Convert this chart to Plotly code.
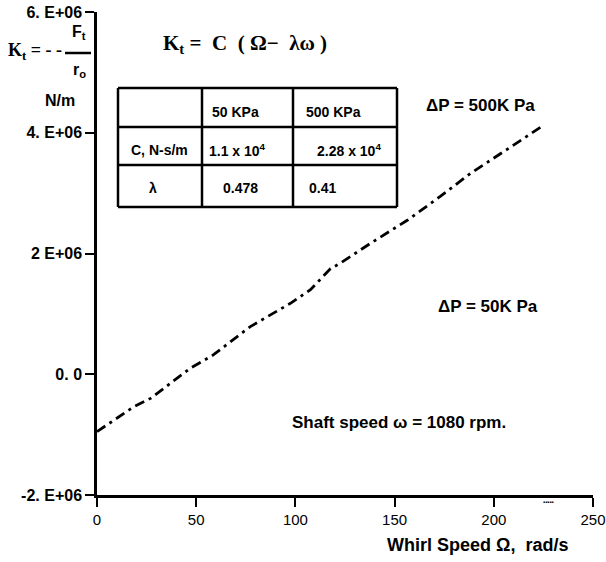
import plotly.graph_objects as go

# ---- data ----
omega = [0, 18.5, 27, 47, 50.5, 58.6, 77.3, 89, 97.5, 107.6, 117.7, 122.7,
         137.9, 156.4, 168.2, 173.2, 188.4, 203.5, 218.7, 225.4]
kt = [-0.95e6, -0.54e6, -0.40e6, 0.10e6, 0.165e6, 0.32e6, 0.79e6, 1.01e6,
      1.175e6, 1.40e6, 1.75e6, 1.84e6, 2.17e6, 2.55e6, 2.83e6, 2.95e6,
      3.33e6, 3.66e6, 3.99e6, 4.13e6]

x_ticks = [0, 50, 100, 150, 200, 250]
y_ticks = [-2e6, 0, 2e6, 4e6, 6e6]
y_ticktext = ["-2. E+06", "0. 0", "2 E+06", "4. E+06", "6. E+06"]

table_header = ["", "50 KPa", "500 KPa"]
table_row_c = ["C, N-s/m", "1.1 x 10<sup>4</sup>", "2.28 x 10<sup>4</sup>"]
table_row_l = ["λ", "0.478", "0.41"]

# ---- layout helpers (pixel -> paper) ----
L, R, T, B = 97, 593, 12, 495
W, H = 606, 562
def px(x):
    return (x - L) / (R - L)
def py(y):
    return (B - y) / (B - T)

FONT = "Liberation Sans"
SERIF = "Liberation Serif"

fig = go.Figure()
fig.add_trace(go.Scatter(
    x=omega, y=kt, mode="lines",
    line=dict(color="black", width=2.8, dash="10px,5px,3px,5px"),
    showlegend=False, hoverinfo="skip"))

ann = []
def text(x, y, s, size=13, family=FONT, xanchor="center", bold=True):
    ann.append(dict(x=px(x), y=py(y), xref="paper", yref="paper",
                    text=(f"<b>{s}</b>" if bold else s), showarrow=False,
                    xanchor=xanchor, yanchor="middle",
                    font=dict(family=family, size=size, color="black")))

# Table
shapes = []
tx = [118, 202, 293, 397]
ty = [88, 127, 165, 207]
for xv in tx:
    shapes.append(dict(type="line", xref="paper", yref="paper",
                       x0=px(xv), x1=px(xv), y0=py(ty[0]), y1=py(ty[-1]),
                       line=dict(color="black", width=2.5)))
for yv in ty:
    shapes.append(dict(type="line", xref="paper", yref="paper",
                       x0=px(tx[0]), x1=px(tx[-1]), y0=py(yv), y1=py(yv),
                       line=dict(color="black", width=2.5)))

cx_rows = [
    (112, [None, 235, 333], table_header),
    (150, [159, 237, 349], table_row_c),
    (188, [153, 240, 322], table_row_l),
]
for yv, xs, labels in cx_rows:
    for xv, lab in zip(xs, labels):
        if xv is not None and lab:
            text(xv, yv, lab, size=14)

# Title formula
text(245, 44, "K<sub>t</sub> =  C  ( Ω−  λω )", size=21, family=SERIF)

# Y-axis label (Kt = -Ft/ro, N/m)
text(6, 52, "K<sub>t</sub> = - -", size=18, family=SERIF, xanchor="left")
text(79, 33, "F<sub>t</sub>", size=16)
text(79, 70, "r<sub>o</sub>", size=16)
shapes.append(dict(type="line", xref="paper", yref="paper",
                   x0=px(65), x1=px(91), y0=py(53), y1=py(53),
                   line=dict(color="black", width=2.5)))
text(60, 100, "N/m", size=16)

# In-plot notes
text(480, 105, "ΔP = 500K Pa", size=17)
text(488, 306, "ΔP = 50K Pa", size=17)
text(399, 423, "Shaft speed ω = 1080 rpm.", size=17)
text(548, 502, "▪▪▪▪▪", size=6)

# X-axis title
text(477, 545, "Whirl Speed Ω,  rad/s", size=18)

fig.update_layout(
    width=W, height=H,
    margin=dict(l=L, r=W - R, t=T, b=H - B, autoexpand=False),
    plot_bgcolor="white", paper_bgcolor="white",
    annotations=ann, shapes=shapes,
    xaxis=dict(range=[0, 250], tickvals=x_ticks, ticks="outside", ticklen=9,
               tickwidth=2, tickcolor="black", showline=True, linecolor="black",
               linewidth=2.5, showgrid=False, zeroline=False,
               ticklabeloverflow="allow", automargin=False,
               tickfont=dict(family=FONT, size=15, color="black"),
               tickprefix="<b>", ticksuffix="</b>"),
    yaxis=dict(range=[-2e6, 6e6], tickvals=y_ticks, ticktext=[f"<b>{t}</b>" for t in y_ticktext],
               ticks="outside", ticklen=9, tickwidth=2, tickcolor="black",
               showline=True, linecolor="black", linewidth=2.5,
               showgrid=False, zeroline=False, ticklabeloverflow="allow",
               automargin=False,
               tickfont=dict(family=FONT, size=16, color="black")),
)

fig.write_html("out.html")
